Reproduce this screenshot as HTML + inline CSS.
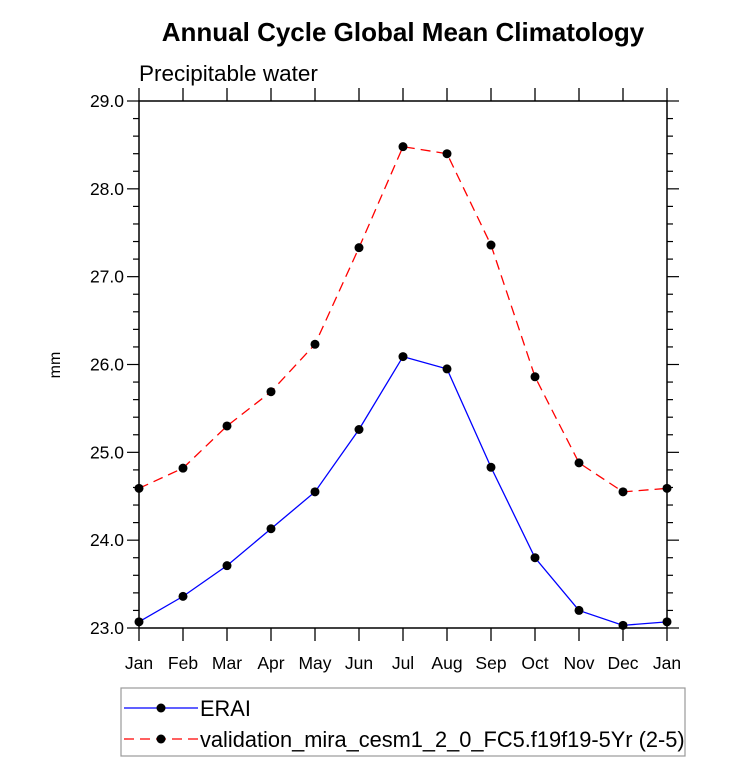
<!DOCTYPE html>
<html><head><meta charset="utf-8"><style>
body{margin:0;background:#fff;}
svg{display:block;font-family:"Liberation Sans",sans-serif;}
</style></head><body>
<svg id="chart" width="733" height="780" viewBox="0 0 733 780">
<text x="403" y="41" text-anchor="middle" font-size="26" font-weight="bold">Annual Cycle Global Mean Climatology</text>
<text x="139" y="81" font-size="22.5">Precipitable water</text>
<text transform="translate(60,365) rotate(-90)" text-anchor="middle" font-size="16">mm</text>
<rect x="139" y="101" width="528" height="527" fill="none" stroke="#000" stroke-width="1.5"/>
<g id="axes"></g>
<g id="series"></g>
<g>
<rect x="121" y="688" width="564" height="68" fill="none" stroke="#999" stroke-width="1.2"/>
<g>
<line x1="124" y1="708" x2="198" y2="708" stroke="#00f" stroke-width="1.3"/>
<circle cx="161" cy="708" r="4.5" fill="#000"/>
<text x="200" y="716" font-size="21.8">ERAI</text>
</g>
<g>
<line x1="124" y1="739" x2="198" y2="739" stroke="#f00" stroke-width="1.3" stroke-dasharray="10,6"/>
<circle cx="161" cy="739" r="4.5" fill="#000"/>
<text x="200" y="747" font-size="21.8">validation_mira_cesm1_2_0_FC5.f19f19-5Yr (2-5)</text>
</g>
</g>
</svg>
<script>
const months = ["Jan","Feb","Mar","Apr","May","Jun","Jul","Aug","Sep","Oct","Nov","Dec","Jan"];
const yTicks = [23.0,24.0,25.0,26.0,27.0,28.0,29.0];
const eraiValues = [23.07,23.36,23.71,24.13,24.55,25.26,26.09,25.95,24.83,23.80,23.20,23.03,23.07];
const modelValues = [24.59,24.82,25.30,25.69,26.23,27.33,28.48,28.40,27.36,25.86,24.88,24.55,24.59];
const NS="http://www.w3.org/2000/svg";
const X0=139,X1=667,Y0=628,Y1=101,YMIN=23,YMAX=29;
const xs=i=>X0+(X1-X0)*i/(months.length-1);
const ys=v=>Y0-(Y0-Y1)*(v-YMIN)/(YMAX-YMIN);
function mk(t,a,p){const e=document.createElementNS(NS,t);for(const k in a)e.setAttribute(k,a[k]);p.appendChild(e);return e;}
const ax=document.getElementById('axes');
months.forEach((m,i)=>{
 const x=xs(i);
 const t1=mk('line',{x1:x,y1:Y0,x2:x,y2:Y0+13,stroke:'#000','stroke-width':1.3},ax);
 
 
 const t2=mk('line',{x1:x,y1:Y1,x2:x,y2:Y1-13,stroke:'#000','stroke-width':1.3},ax);
 
 
 const lb=mk('text',{x:x,y:669,'text-anchor':'middle','font-size':17.5},ax);
 lb.textContent=m;
 
 
});
for(let v=YMIN;v<=YMAX+1e-6;v+=0.2){
 const y=ys(v);const major=Math.abs(v-Math.round(v))<1e-6;const L=major?12:6;
 mk('line',{x1:X0-L,y1:y,x2:X0,y2:y,stroke:'#000','stroke-width':1.2},ax);
 mk('line',{x1:X1,y1:y,x2:X1+L,y2:y,stroke:'#000','stroke-width':1.2},ax);
}
yTicks.forEach(v=>{
 const lb=mk('text',{x:X0-15,y:ys(v)+6,'text-anchor':'end','font-size':17.5},ax);
 lb.textContent=v.toFixed(1);
 
 
});
const sg=document.getElementById('series');
function series(vals,color,dash,name){
 const pts=vals.map((v,i)=>xs(i)+','+ys(v)).join(' ');
 const pl=mk('polyline',{points:pts,fill:'none',stroke:color,'stroke-width':1.3},sg);
 if(dash)pl.setAttribute('stroke-dasharray',dash);
 
 
 vals.forEach((v,i)=>{
  const c=mk('circle',{cx:xs(i),cy:ys(v),r:4.5,fill:'#000'},sg);
  
  
 });
}
series(eraiValues,'#00f',null,'erai');
series(modelValues,'#f00','10,6','model');
</script>
</body></html>
